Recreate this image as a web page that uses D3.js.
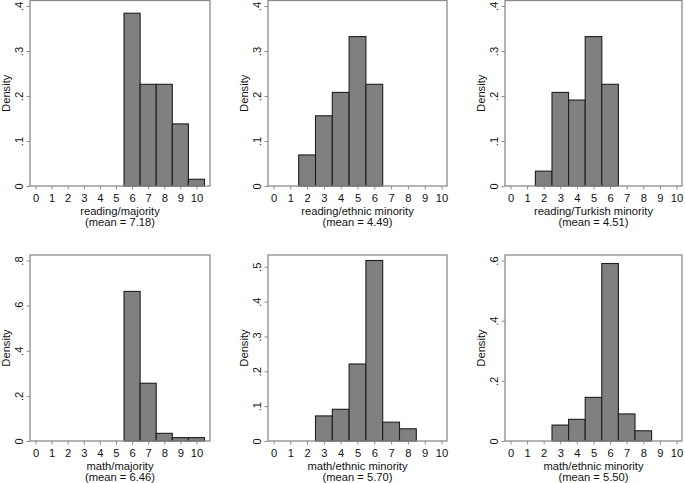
<!DOCTYPE html>
<html>
<head>
<meta charset="utf-8">
<script src="https://cdn.jsdelivr.net/npm/d3@7"></script>
<style>
  html, body { margin: 0; padding: 0; background: #fff; }
  svg { display: block; font-family: "Liberation Sans", Arial, sans-serif; }
</style>
</head>
<body>
<svg id="chart" width="685" height="483"></svg>
<script>
// ---- data ----
const xTicks = [0, 1, 2, 3, 4, 5, 6, 7, 8, 9, 10];

const titles = ["reading/majority", "reading/ethnic minority", "reading/Turkish minority",
                "math/majority", "math/ethnic minority", "math/ethnic minority"];
const means = ["7.18", "4.49", "4.51", "6.46", "5.70", "5.50"];

const readMajBins = [6, 7, 8, 9, 10];
const readMajDensity = [0.384, 0.226, 0.226, 0.138, 0.015];

const readEthBins = [2, 3, 4, 5, 6];
const readEthDensity = [0.069, 0.156, 0.208, 0.332, 0.226];

const readTurBins = [2, 3, 4, 5, 6];
const readTurDensity = [0.033, 0.208, 0.191, 0.332, 0.226];

const mathMajBins = [6, 7, 8, 9, 10];
const mathMajDensity = [0.663, 0.256, 0.034, 0.015, 0.015];

const mathEthBins = [3, 4, 5, 6, 7, 8];
const mathEthDensity = [0.072, 0.091, 0.221, 0.518, 0.054, 0.035];

const mathEth2Bins = [3, 4, 5, 6, 7, 8];
const mathEth2Density = [0.053, 0.072, 0.145, 0.590, 0.090, 0.034];

const yTicksReading = [0, 0.1, 0.2, 0.3, 0.4];
const yTicksMathMaj = [0, 0.2, 0.4, 0.6, 0.8];
const yTicksMathEth = [0, 0.1, 0.2, 0.3, 0.4, 0.5];
const yTicksMathEth2 = [0, 0.2, 0.4, 0.6];

const binsList = [readMajBins, readEthBins, readTurBins, mathMajBins, mathEthBins, mathEth2Bins];
const densityList = [readMajDensity, readEthDensity, readTurDensity, mathMajDensity, mathEthDensity, mathEth2Density];
const yTicksList = [yTicksReading, yTicksReading, yTicksReading, yTicksMathMaj, yTicksMathEth, yTicksMathEth2];

// ---- layout ----
const lefts = [30, 268, 505];
const rights = [210, 447, 682];
const tops = [0.5, 255];
const bottoms = [186, 441];
const pad = 5.5;
const fontSize = 11.2;
const frameColor = "#8c8c8c";
const FONT = '"Liberation Sans", Arial, sans-serif';

const svg = d3.select("#chart");

const fmtY = d => d === 0 ? "0" : d3.format(".1f")(d).replace(/^0/, "");

for (let i = 0; i < 6; i++) {
  const row = Math.floor(i / 3), col = i % 3;
  const L = lefts[col], R = rights[col], T = tops[row], B = bottoms[row];
  const bins = binsList[i], dens = densityList[i], yTicks = yTicksList[i];

  const xlo = Math.min(0, d3.min(bins) - 0.5);
  const xhi = Math.max(10, d3.max(bins) + 0.5);
  const x = d3.scaleLinear().domain([xlo, xhi]).range([L + pad, R - pad]);
  const ymax = Math.max(d3.max(yTicks), d3.max(dens));
  const y = d3.scaleLinear().domain([0, ymax]).range([B, T + pad]);

  const g = svg.append("g");

  // bars
  g.selectAll("rect.bar").data(bins.map((b, k) => ({ b, d: dens[k] })))
    .enter().append("rect")
    .attr("class", "bar")
    .attr("x", d => x(d.b - 0.5))
    .attr("width", d => x(d.b + 0.5) - x(d.b - 0.5))
    .attr("y", d => y(d.d))
    .attr("height", d => y(0) - y(d.d))
    .attr("fill", "#808080")
    .attr("stroke", "#1e1e1e")
    .attr("stroke-width", 1.1);

  // frame
  g.append("rect")
    .attr("x", L).attr("y", T)
    .attr("width", R - L).attr("height", B - T)
    .attr("fill", "none")
    .attr("stroke", frameColor)
    .attr("stroke-width", 1.3);

  // x axis
  const xa = g.append("g").attr("transform", `translate(0,${B})`)
    .call(d3.axisBottom(x).tickValues(xTicks).tickSize(3.5).tickFormat(d3.format("d")));
  xa.select(".domain").remove();
  xa.selectAll(".tick line").attr("stroke", frameColor);
  xa.selectAll(".tick text")
    .attr("y", 15.5).attr("dy", null)
    .attr("fill", "#111")
    .style("font-size", fontSize + "px")
    .style("font-family", FONT);

  // y axis
  const ya = g.append("g").attr("transform", `translate(${L},0)`)
    .call(d3.axisLeft(y).tickValues(yTicks).tickSize(3.5).tickFormat(fmtY));
  ya.select(".domain").remove();
  ya.selectAll(".tick line").attr("stroke", frameColor);
  ya.selectAll(".tick text")
    .attr("x", null).attr("dy", null)
    .attr("text-anchor", "middle")
    .attr("transform", "translate(-7,0) rotate(-90)")
    .attr("fill", "#111")
    .style("font-size", fontSize + "px")
    .style("font-family", FONT);

  // y title
  g.append("text")
    .attr("transform", `translate(${L - 20.5},${(T + B) / 2}) rotate(-90)`)
    .attr("text-anchor", "middle")
    .attr("fill", "#111")
    .style("font-size", fontSize + "px")
    .style("font-family", FONT)
    .text("Density");

  // x title (two lines)
  const cx = (L + R) / 2;
  g.append("text")
    .attr("x", cx).attr("y", B + 29)
    .attr("text-anchor", "middle")
    .attr("fill", "#111")
    .style("font-size", fontSize + "px")
    .style("font-family", FONT)
    .text(titles[i]);
  g.append("text")
    .attr("x", cx).attr("y", B + 40.2)
    .attr("text-anchor", "middle")
    .attr("fill", "#111")
    .style("font-size", fontSize + "px")
    .style("font-family", FONT)
    .text(`(mean = ${means[i]})`);
}
</script>
</body>
</html>
